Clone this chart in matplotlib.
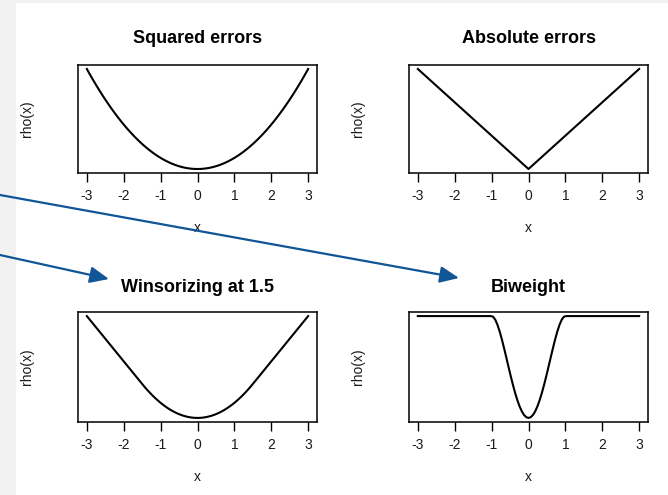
import numpy as np
import matplotlib
matplotlib.use("Agg")
import matplotlib.pyplot as plt
from matplotlib.patches import Rectangle, FancyArrowPatch

plt.rcParams["font.family"] = ["Liberation Sans", "DejaVu Sans"]
plt.rcParams["axes.unicode_minus"] = False

# Loss functions rho(x) evaluated on a grid over [-3, 3]
titles = ["Squared errors", "Absolute errors", "Winsorizing at 1.5", "Biweight"]
x_ticks = [-3, -2, -1, 0, 1, 2, 3]
x_grid = np.linspace(-3, 3, 101)
huber_c = 1.5
biweight_c = 1.0


def rho_squared(x):
    return x ** 2


def rho_absolute(x):
    return np.abs(x)


def rho_huber(x, c=huber_c):
    ax_ = np.abs(x)
    return np.where(ax_ <= c, x ** 2 / 2, c * ax_ - c ** 2 / 2)


def rho_biweight(x, c=biweight_c):
    u = np.clip(np.abs(x) / c, 0, 1)
    return 1 - (1 - u ** 2) ** 2


curves = [rho_squared(x_grid), rho_absolute(x_grid),
          rho_huber(x_grid), rho_biweight(x_grid)]

W, H = 668, 495
fig = plt.figure(figsize=(W / 100, H / 100), dpi=100)
fig.patch.set_facecolor("#f2f2f2")

# white page area
fig.add_artist(Rectangle((16 / W, 0), (W - 16) / W, (H - 3) / H,
                         transform=fig.transFigure, facecolor="white",
                         edgecolor="none", zorder=0))

# panel boxes in pixels: left, top, right, bottom
boxes = [(78, 65, 317, 173), (409, 65, 648, 173),
         (78, 312, 317, 422), (409, 312, 648, 422)]
title_gap = [22, 22, 20.5, 20.5]

for i, (l, t, r, b) in enumerate(boxes):
    ax = fig.add_axes([l / W, 1 - b / H, (r - l) / W, (b - t) / H])
    ax.set_facecolor("white")
    y = curves[i]
    ax.plot(x_grid, y, color="black", lw=1.5)
    ax.set_xlim(-3.24, 3.24)
    rng = y.max() - y.min()
    ax.set_ylim(y.min() - 0.04 * rng, y.max() + 0.04 * rng)
    ax.set_xticks(x_ticks)
    ax.set_xticklabels([str(v) for v in x_ticks])
    ax.set_yticks([])
    ax.tick_params(axis="x", length=6.5, width=1.0, pad=5,
                   labelsize=10, color="black", labelcolor="#1a1a1a")
    for s in ax.spines.values():
        s.set_linewidth(1.1)
        s.set_color("black")
    ax.set_title(titles[i], fontsize=13, fontweight="bold",
                 pad=title_gap[i] * 0.72, color="black")
    hpx = b - t
    wpx = r - l
    ax.text(0.5, -59 / hpx, "x", transform=ax.transAxes, ha="center",
            va="baseline", fontsize=10, color="#1a1a1a")
    ax.text(-51 / wpx, 0.5, "rho(x)", transform=ax.transAxes, ha="center",
            va="center", rotation=90, fontsize=10, color="#1a1a1a")

# pointer arrows
arrow_color = "#105596"
for (x0, y0), (x1, y1) in [((0, 195), (459, 278)), ((0, 255), (109, 279))]:
    arr = FancyArrowPatch((x0 / W, 1 - y0 / H), (x1 / W, 1 - y1 / H),
                          transform=fig.transFigure,
                          arrowstyle="-|>,head_length=11.5,head_width=5",
                          mutation_scale=1, color=arrow_color, lw=1.6,
                          shrinkA=0, shrinkB=0, zorder=10)
    fig.add_artist(arr)

fig.savefig("out.png", dpi=100, facecolor=fig.get_facecolor())
